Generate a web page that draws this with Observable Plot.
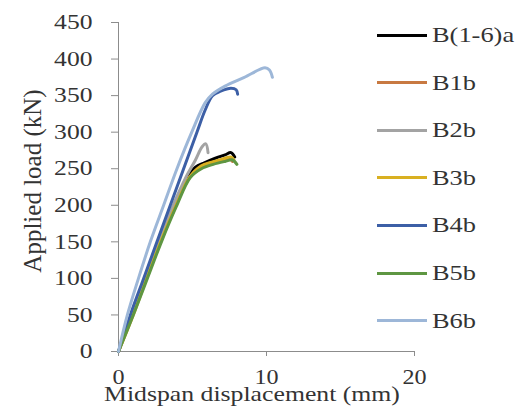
<!DOCTYPE html>
<html><head><meta charset="utf-8">
<script src="https://cdn.jsdelivr.net/npm/d3@7"></script>
<script src="https://cdn.jsdelivr.net/npm/@observablehq/plot@0.6"></script>
<style>
body{margin:0;background:#fff;}
#wrap{position:relative;width:528px;height:419px;overflow:hidden;font-family:"Liberation Serif","Times New Roman",serif;}
#legend{position:absolute;left:0;top:0;}
.row{position:absolute;left:377px;height:24px;display:flex;align-items:center;white-space:nowrap;}
.sw{width:50px;height:3px;}
.lab{font-size:22px;color:#333;margin-left:5px;transform:scaleX(1.2);transform-origin:left center;}
</style></head>
<body>
<div id="wrap"></div>
<script>
// ---- data ----
const seriesNames = ["B(1-6)a","B1b","B2b","B3b","B4b","B5b","B6b"];
const seriesColors = ["#000000","#C87941","#A3A3A3","#D9B021","#3C5FA6","#5E9642","#9DB7D8"];
const xTicks = [0,10,20];
const yTicks = [0,50,100,150,200,250,300,350,400,450];
const xLabel = "Midspan displacement (mm)";
const yLabel = "Applied load (kN)";

// displacement (mm) / load (kN)
const B16a_d = [0,0.9,1.8,2.7,3.7,4.6,5.2,5.8,6.5,7.2,7.6,7.85];
const B16a_L = [0,50,100,150,197,236,252,258,264,269,272,266];
const B1b_d = [0,0.95,1.85,2.8,3.8,4.75,5.5,6.2,7.0,7.5,7.7];
const B1b_L = [0,50,100,150,198,237,252,258,262,264,260];
const B2b_d = [0,0.9,1.8,2.7,3.65,4.55,5.2,5.65,5.9,6.05];
const B2b_L = [0,50,100,150,198,238,262,280,284,272];
const B3b_d = [0,1.0,1.9,2.85,3.85,4.8,5.6,6.3,7.0,7.6,7.8];
const B3b_L = [0,50,100,150,198,238,254,259,263,266,262];
const B4b_d = [0,0.8,1.7,2.6,3.5,4.4,5.3,5.85,6.35,6.9,7.6,7.95,8.05];
const B4b_L = [0,50,100,150,200,250,300,330,350,356,360,358,352];
const B5b_d = [0,1.0,1.95,2.9,3.9,4.85,5.6,6.4,7.2,7.7,8.0];
const B5b_L = [0,50,100,150,198,238,250,256,260,262,256];
const B6b_d = [0,0.6,1.35,2.15,3.05,3.95,4.95,5.85,6.35,7.2,8.5,9.9,10.2,10.4];
const B6b_L = [0,50,100,150,200,250,300,340,352,363,375,388,385,375];

const allD = [B16a_d,B1b_d,B2b_d,B3b_d,B4b_d,B5b_d,B6b_d];
const allL = [B16a_L,B1b_L,B2b_L,B3b_L,B4b_L,B5b_L,B6b_L];
const rows = [];
seriesNames.forEach((s,i)=>allD[i].forEach((d,j)=>rows.push({s, d, L: allL[i][j]})));

const axisGray = "#8c8c8c";
const textColor = "#333";

const chart = Plot.plot({
  width:528, height:419,
  marginLeft:118, marginRight:114, marginTop:22, marginBottom:68,
  style:{fontFamily:"'Liberation Serif','Times New Roman',serif", fontSize:"21px", color:textColor, background:"#fff"},
  x:{domain:[0,20]},
  y:{domain:[0,450]},
  color:{domain:seriesNames, range:seriesColors},
  marks:[
    Plot.axisX({ticks:xTicks, tickSize:5, tickPadding:13, stroke:axisGray, fill:textColor, label:null}),
    Plot.axisY({ticks:yTicks, tickSize:7, tickPadding:19, stroke:axisGray, fill:textColor, label:null}),
    Plot.ruleY([0],{stroke:axisGray}),
    Plot.ruleX([0],{stroke:axisGray}),
    Plot.line(rows,{x:"d", y:"L", z:"s", stroke:"s", strokeWidth:3, curve:"catmull-rom", strokeLinejoin:"round", strokeLinecap:"round"})
  ]
});

// widen tick labels horizontally about their anchor (the reference's glyphs are stretched)
function stretch(sel,k){
  chart.querySelectorAll(sel).forEach(t=>{
    const tr = t.getAttribute("transform");
    if (tr) t.setAttribute("transform", `${tr} scale(${k},1)`);
  });
}
stretch('g[aria-label="y-axis tick label"] text',1.22);
stretch('g[aria-label="x-axis tick label"] text',1.15);

const svg = d3.select(chart);
svg.append("text").text(xLabel)
  .attr("text-anchor","middle").attr("fill",textColor)
  .attr("font-size",22)
  .attr("transform","translate(252,401) scale(1.17,1)");
svg.append("text").text(yLabel)
  .attr("text-anchor","middle").attr("fill",textColor)
  .attr("font-size",25)
  .attr("transform","translate(41,181) rotate(-90)");

const wrap = document.getElementById("wrap");
wrap.appendChild(chart);
const leg = document.createElement("div");
leg.id="legend";
seriesNames.forEach((s,i)=>{
  const r = document.createElement("div");
  r.className="row";
  r.style.top = (35 + i*47.6 - 12) + "px";
  r.innerHTML = `<div class="sw" style="background:${seriesColors[i]}"></div><span class="lab">${s}</span>`;
  leg.appendChild(r);
});
wrap.appendChild(leg);
</script>
</body></html>
